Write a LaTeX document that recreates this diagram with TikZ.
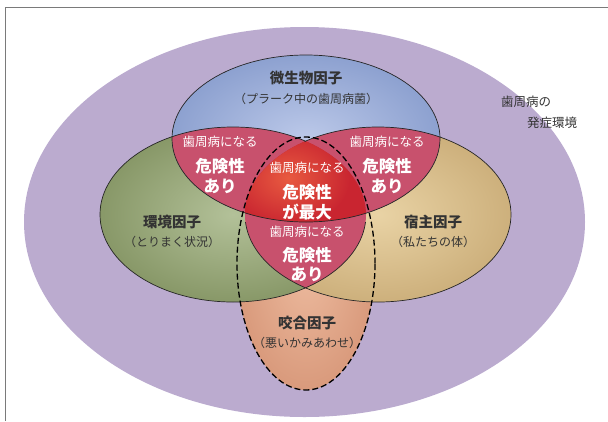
\documentclass[tikz,border=0pt]{standalone}
\usepackage{fontspec}
\newfontfamily\cjk{Noto Sans CJK JP}

\tikzstyle{lens-text}=[text=white, inner sep=0pt, font=\cjk\fontsize{12.5}{14}\selectfont]
\tikzstyle{risk-text}=[text=white, inner sep=0pt, font=\cjk\bfseries\fontsize{16.5}{18}\selectfont]
\tikzstyle{factor-text}=[text=FactorGray, inner sep=0pt, font=\cjk\bfseries\fontsize{14.5}{16}\selectfont]
\tikzstyle{factor-sub}=[text=FactorGray, inner sep=0pt, font=\cjk\fontsize{12}{13}\selectfont]
\tikzstyle{field-text}=[text=FactorGray, inner sep=0pt, font=\cjk\fontsize{12.5}{14}\selectfont]
\tikzstyle{outline}=[draw=OutlineGray, line width=0.7pt]
\tikzstyle{bite-outline}=[draw=black, line width=1.3pt, dash pattern=on 6pt off 3pt]
\definecolor{FieldPurple}{HTML}{BBABCF}
\definecolor{MicrobeBlue}{HTML}{8DA1D0}
\definecolor{MicrobeBlueLight}{HTML}{BCC9E9}
\definecolor{EnvGreen}{HTML}{889868}
\definecolor{EnvGreenLight}{HTML}{B3C199}
\definecolor{HostTan}{HTML}{CDB07C}
\definecolor{HostTanLight}{HTML}{E9D3A5}
\definecolor{BitePeach}{HTML}{D99A7C}
\definecolor{BitePeachLight}{HTML}{EDBB9F}
\definecolor{LensPink}{HTML}{C8516D}
\definecolor{RiskRed}{HTML}{C92530}
\definecolor{RiskRedLight}{HTML}{E85A40}
\definecolor{FactorGray}{HTML}{333333}
\definecolor{OutlineGray}{HTML}{262626}
\definecolor{FrameGray}{HTML}{7A7A7A}

\def\fieldpath{(304.5,222) ellipse [x radius=280.5pt, y radius=195pt]}
\def\microbepath{(306,138.5) ellipse [x radius=134pt, y radius=83.5pt]}
\def\envpath{(233,214.5) ellipse [x radius=133pt, y radius=87.5pt]}
\def\hostpath{(378,214.5) ellipse [x radius=133pt, y radius=87.5pt]}
\def\bitepath{(306,263.5) ellipse [x radius=69pt, y radius=126.5pt]}

\begin{document}
\begin{tikzpicture}[x=1pt,y=-1pt]
      \useasboundingbox (0,0) rectangle (608,421);
      \draw[FrameGray, line width=0.8pt] (5,421) -- (5,7.5) -- (608,7.5);

      % areas
      \fill[FieldPurple] \fieldpath;
      \shade[inner color=BitePeachLight, outer color=BitePeach] \bitepath;
      \shade[inner color=EnvGreenLight, outer color=EnvGreen] \envpath;
      \shade[inner color=HostTanLight, outer color=HostTan] \hostpath;
      \shade[inner color=MicrobeBlueLight, outer color=MicrobeBlue] \microbepath;

      % overlaps
      \begin{scope}
        \clip \microbepath;
        \fill[LensPink] \envpath;
        \fill[LensPink] \hostpath;
      \end{scope}
      \begin{scope}
        \clip \envpath;
        \fill[LensPink] \hostpath;
      \end{scope}
      \begin{scope}
        \clip \microbepath;
        \clip \envpath;
        \clip \hostpath;
        \fill[RiskRed] \hostpath;
        \shade[inner color=RiskRedLight, outer color=RiskRed] (288,178) ellipse [x radius=62pt, y radius=48pt];
      \end{scope}

      % outlines
      \draw[outline] \microbepath;
      \begin{scope}
        \clip (0,0) -- (305.5,0) -- (305.5,222) -- (608,222) -- (608,421) -- (0,421) -- cycle;
        \draw[outline] \envpath;
      \end{scope}
      \begin{scope}
        \clip (304.5,0) -- (608,0) -- (608,421) -- (0,421) -- (0,222) -- (304.5,222) -- cycle;
        \draw[outline] \hostpath;
      \end{scope}
      \draw[bite-outline] \bitepath;

      % factor labels
      \node (label:microbe) at (306,78) [factor-text] {微生物因子};
      \node (label:microbe-sub) at (306,99) [factor-sub] {（プラーク中の歯周病菌）};
      \node (label:env) at (172,222) [factor-text] {環境因子};
      \node (label:env-sub) at (172,242) [factor-sub] {（とりまく状況）};
      \node (label:host) at (433,222) [factor-text] {宿主因子};
      \node (label:host-sub) at (433,242) [factor-sub] {（私たちの体）};
      \node (label:bite) at (307,323) [factor-text] {咬合因子};
      \node (label:bite-sub) at (307,343) [factor-sub] {（悪いかみあわせ）};
      \node (label:field-a) at (526,102) [field-text] {歯周病の};
      \node (label:field-b) at (552,123) [field-text] {発症環境};

      % risk labels
      \node (risk:left-a) at (220,142) [lens-text] {歯周病になる};
      \node (risk:left-b) at (220,166) [risk-text] {危険性};
      \node (risk:left-c) at (220,186) [risk-text] {あり};
      \node (risk:right-a) at (387,142) [lens-text] {歯周病になる};
      \node (risk:right-b) at (387,166) [risk-text] {危険性};
      \node (risk:right-c) at (387,186) [risk-text] {あり};
      \node (risk:center-a) at (307,168) [lens-text] {歯周病になる};
      \node (risk:center-b) at (307,192) [risk-text] {危険性};
      \node (risk:center-c) at (307,212) [risk-text] {が最大};
      \node (risk:lower-a) at (307,232) [lens-text] {歯周病になる};
      \node (risk:lower-b) at (307,255) [risk-text] {危険性};
      \node (risk:lower-c) at (307,274) [risk-text] {あり};
    \end{tikzpicture}
\end{document}
